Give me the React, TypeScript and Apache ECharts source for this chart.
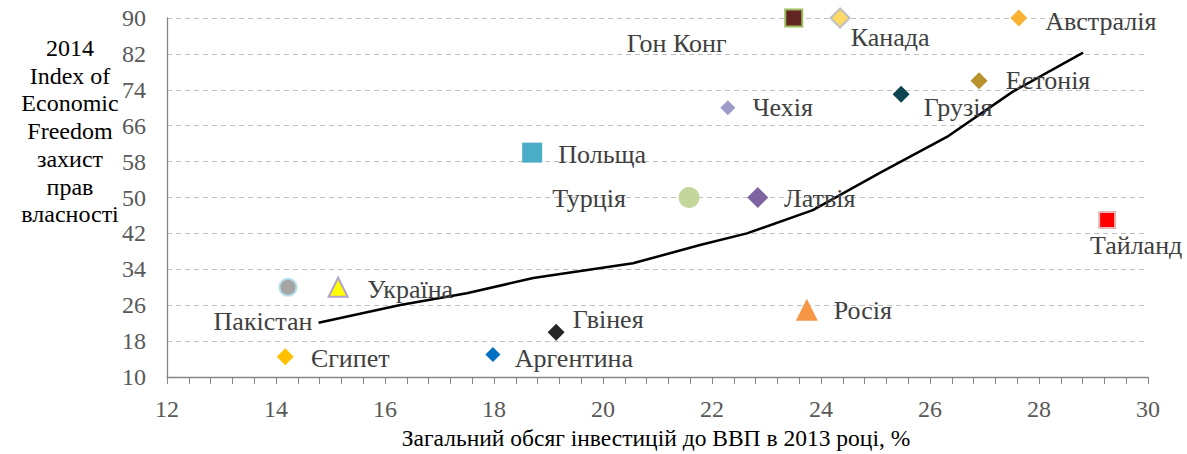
import React, { useEffect, useRef } from "react";
import * as echarts from "echarts";

const countries = ["Гон Конг", "Канада", "Австралія", "Естонія", "Грузія", "Чехія", "Польща", "Турція", "Латвія", "Тайланд", "Пакістан", "Україна", "Росія", "Гвінея", "Єгипет", "Аргентина"];
const investment = [23.5, 24.35, 27.63, 26.9, 25.47, 22.29, 18.7, 21.58, 22.84, 29.25, 14.22, 15.14, 23.74, 19.14, 14.17, 17.98];
const freedom = [90, 90, 90, 76, 73, 70, 60, 50, 50, 45, 30, 30, 25, 20, 14.5, 15];

const trendX = [14.78, 16.28, 17.5, 18.72, 20.55, 21.78, 22.64, 23.85, 25.08, 26.31, 27.52, 28.81];
const trendY = [22.1, 26.04, 28.65, 32.06, 35.34, 39.4, 42.0, 47.2, 55.5, 63.5, 73.6, 82.3];

const xTicks = { min: 12, max: 30, interval: 2 };
const yTicks = { min: 10, max: 90, interval: 8 };

const yTitleLines = ["2014", "Index of", "Economic", "Freedom", "захист", "прав", "власності"];
const xTitle = "Загальний обсяг інвестицій до ВВП в 2013 році, %";

// styles per point (marker shape, size, colours, label offset)
const markerStyles = [
  { symbol: "rect", size: 17, color: "#632523", border: "#9BBB59", bw: 2, off: [-117, 25] },
  { symbol: "diamond", size: 19, color: "#FFD966", border: "#BFBFBF", bw: 2, off: [50, 19] },
  { symbol: "diamond", size: 17, color: "#F9B233", border: "#F9B233", bw: 0, off: [82, 3] },
  { symbol: "diamond", size: 17, color: "#B8922C", border: "#B8922C", bw: 0, off: [69, 0] },
  { symbol: "diamond", size: 17, color: "#0D4452", border: "#0D4452", bw: 0, off: [57, 13] },
  { symbol: "diamond", size: 15, color: "#9E9BC9", border: "#9E9BC9", bw: 0, off: [55, 0] },
  { symbol: "rect", size: 20, color: "#4BACC6", border: "#4BACC6", bw: 0, off: [70, 2] },
  { symbol: "circle", size: 21, color: "#C3D69B", border: "#C3D69B", bw: 0, off: [-100, 1] },
  { symbol: "diamond", size: 21, color: "#8064A2", border: "#8064A2", bw: 0, off: [62, 1] },
  { symbol: "rect", size: 16, color: "#FF0000", border: "#E6B9B8", bw: 2, off: [29, 26] },
  { symbol: "circle", size: 17, color: "#A5A5A5", border: "#B7DEE8", bw: 2, off: [-25, 34] },
  { symbol: "triangle", size: 19, color: "#FFFF00", border: "#B3A2C7", bw: 2, off: [72, 2] },
  { symbol: "triangle", size: 22, color: "#F79646", border: "#F79646", bw: 0, off: [56, 1] },
  { symbol: "diamond", size: 17, color: "#262626", border: "#262626", bw: 0, off: [52, -13] },
  { symbol: "diamond", size: 17, color: "#FFC000", border: "#FFC000", bw: 0, off: [65, 2] },
  { symbol: "diamond", size: 15, color: "#0070C0", border: "#0070C0", bw: 0, off: [81, 4] },
];

const FONT = "Liberation Serif";

export default function App() {
  const ref = useRef<HTMLDivElement>(null);
  useEffect(() => {
    document.body.style.margin = "0";
    const chart = echarts.init(ref.current!, null, { renderer: "svg" });
    const pointData = countries.map((name, i) => {
      const s = markerStyles[i];
      return {
        name,
        value: [investment[i], freedom[i]],
        symbol: s.symbol,
        symbolSize: s.size,
        itemStyle: { color: s.color, borderColor: s.border, borderWidth: s.bw, opacity: 1 },
        label: {
          show: true,
          formatter: name,
          position: "inside",
          offset: s.off,
          align: "center",
          verticalAlign: "middle",
          color: "#404040",
          fontSize: 26,
          fontFamily: FONT,
        },
      };
    });
    const lineHeight = 27.7;
    chart.setOption({
      animation: false,
      textStyle: { fontFamily: FONT },
      grid: { left: 167, right: 39, top: 18, bottom: 77, containLabel: false },
      xAxis: {
        type: "value",
        min: xTicks.min,
        max: xTicks.max,
        interval: xTicks.interval,
        axisLine: { show: true, lineStyle: { color: "#868686", width: 1.3 } },
        axisTick: { show: true, inside: false, length: 7, lineStyle: { color: "#868686" } },
        minorTick: { show: true, splitNumber: 5, length: 7, lineStyle: { color: "#868686" } },
        splitLine: { show: false },
        axisLabel: { color: "#595959", fontSize: 24, fontFamily: FONT, margin: 20 },
      },
      yAxis: {
        type: "value",
        min: yTicks.min,
        max: yTicks.max,
        interval: yTicks.interval,
        axisLine: { show: true, lineStyle: { color: "#868686", width: 1.3 } },
        axisTick: { show: false },
        splitLine: { show: true, lineStyle: { color: "#BFBFBF", type: [5, 4], width: 1 } },
        axisLabel: { color: "#595959", fontSize: 24, fontFamily: FONT, margin: 21 },
      },
      graphic: [
        ...yTitleLines.map((t, i) => ({
          type: "text",
          x: 70,
          y: 48 + i * lineHeight,
          style: {
            text: t,
            fill: "#000",
            fontSize: 24,
            fontFamily: FONT,
            textAlign: "center",
            textVerticalAlign: "middle",
          },
        })),
        {
          type: "text",
          x: 656,
          y: 438,
          style: {
            text: xTitle,
            fill: "#000",
            fontSize: 23.5,
            fontFamily: FONT,
            textAlign: "center",
            textVerticalAlign: "middle",
          },
        },
      ],
      series: [
        {
          type: "line",
          data: trendX.map((x, i) => [x, trendY[i]]),
          showSymbol: false,
          smooth: false,
          lineStyle: { color: "#000", width: 2.5 },
          z: 3,
          silent: true,
        },
        {
          type: "scatter",
          data: pointData,
          z: 4,
        },
      ],
    });
    return () => chart.dispose();
  }, []);
  return <div ref={ref} style={{ width: 1187, height: 454 }} />;
}
